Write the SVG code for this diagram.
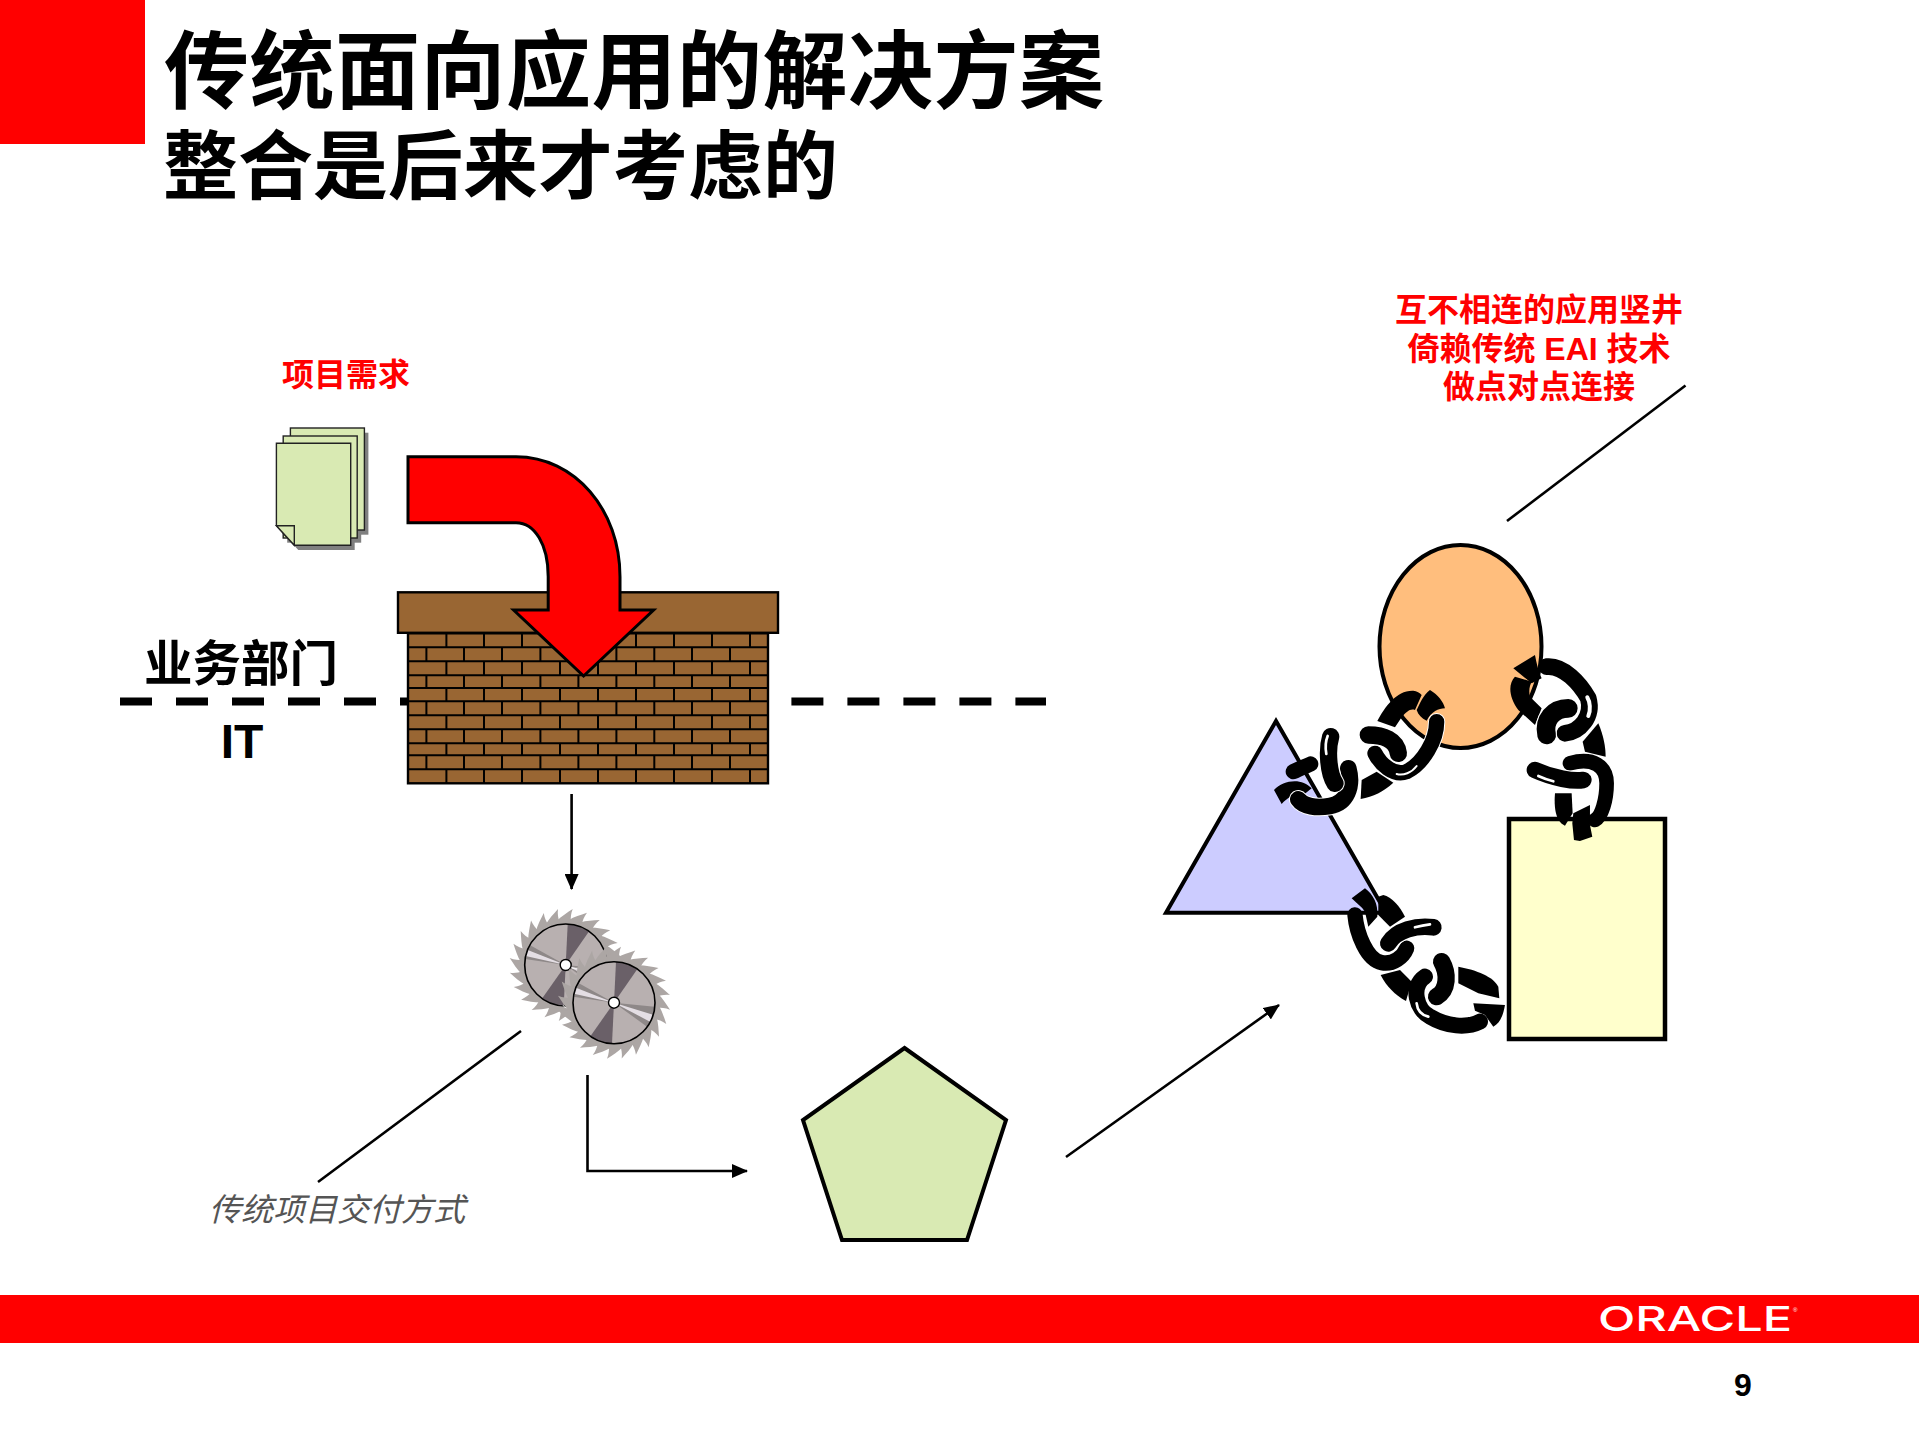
<svg xmlns="http://www.w3.org/2000/svg" width="1919" height="1439" viewBox="0 0 1919 1439">
<style>
.cjk{font-family:"Liberation Sans","Noto Sans CJK SC",sans-serif;font-weight:700}
.red{fill:#f00;font-size:32px}
.ln{fill:none;stroke:#000;stroke-width:2.6}
.br{fill:none;stroke:#000;stroke-width:2;vector-effect:non-scaling-stroke}
.pg{fill:#D9EAB3;stroke:#222;stroke-width:1.4}
.lk{fill:none;stroke:#000;stroke-linecap:round;stroke-linejoin:round}
.wt{fill:none;stroke:#fff;stroke-linecap:round}
</style>
<defs>
<marker id="ah" markerUnits="userSpaceOnUse" markerWidth="18" markerHeight="14" refX="15" refY="7" orient="auto"><path d="M0,0L16,7L0,14z" fill="#000"/></marker>
<path id="o" class="br" d="M446.4 0V1M484 0V1M522 0V1M560 0V1M598 0V1M636 0V1M674 0V1M712 0V1M750 0V1"/>
<path id="e" class="br" d="M426.4 0V1M464 0V1M502 0V1M540.4 0V1M578.4 0V1M616.4 0V1M654.3 0V1M692 0V1M730 0V1"/>
<path id="t" d="M-9,-44C-4,-49 1,-52 7,-56C5,-51 5,-47 5,-44z" fill="#ACA6A4"/>
<g id="t3"><use href="#t"/><use href="#t" transform="rotate(15)"/><use href="#t" transform="rotate(30)"/></g>
<g id="blade">
<circle r="46" fill="#ACA6A4"/>
<use href="#t3"/><use href="#t3" transform="rotate(45)"/><use href="#t3" transform="rotate(90)"/><use href="#t3" transform="rotate(135)"/><use href="#t3" transform="rotate(180)"/><use href="#t3" transform="rotate(225)"/><use href="#t3" transform="rotate(270)"/><use href="#t3" transform="rotate(315)"/>
<circle r="41" fill="#B8B0B0"/>
<path d="M0,0L2,-41A41,41 0 0 1 23.4,-33.7z" fill="#6A6068"/>
<path d="M0,0L-23.6,33.5A41,41 0 0 0 -2,41z" fill="#6A6068"/>
<path d="M0,0L-36,-20A41,41 0 0 0 -40.6,-6z" fill="#8E8888"/>
<path d="M0,0L-38,-15A41,41 0 0 0 -40,-9z" fill="#E4DEE4"/>
<path d="M0,0L40.8,4A41,41 0 0 1 33,24z" fill="#8E8888"/>
<path d="M0,0L39,12A41,41 0 0 1 36,19z" fill="#E4DEE4"/>
<circle r="41" fill="none" stroke="#000" stroke-width="1.6"/>
<circle r="5.5" fill="#fff" stroke="#000" stroke-width="1.4"/>
</g>
</defs>

<rect id="corner" x="0" y="0" width="145" height="144" fill="#f00"/>
<rect id="footer-bar" x="0" y="1295" width="1919" height="48" fill="#f00"/>
<g id="title" class="cjk">
<text x="164" y="102" font-size="85" letter-spacing="0.5">传统面向应用的解决方案</text>
<text x="163" y="193" font-size="75">整合是后来才考虑的</text>
</g>
<text id="logo" x="1598" y="1331" font-family="Inter,'Liberation Sans',sans-serif" font-size="34" font-weight="500" fill="#fff" textLength="194" lengthAdjust="spacingAndGlyphs">ORACLE</text>
<text id="logo-mark" x="1793" y="1312" font-family="'Liberation Sans',sans-serif" font-size="6" fill="#fff">®</text>
<text id="page" x="1743" y="1396" text-anchor="middle" font-family="'Liberation Sans',sans-serif" font-weight="700" font-size="32" fill="#000">9</text>

<g id="connectors">
<path class="ln" d="M571.6 794V889" marker-end="url(#ah)"/>
<path class="ln" d="M587.5 1075V1171H747" marker-end="url(#ah)"/>
<path class="ln" d="M1066 1157L1279 1005" marker-end="url(#ah)"/>
<path class="ln" d="M521 1031L318 1182"/>
<path class="ln" d="M1685.5 385.5L1507 521"/>
<path d="M120 701.4H408" fill="none" stroke="#000" stroke-width="8" stroke-dasharray="32 24"/>
<path d="M791.4 701.4H1046" fill="none" stroke="#000" stroke-width="8" stroke-dasharray="32 24"/>
</g>

<g id="label-project"><text class="cjk red" x="282" y="386">项目需求</text></g>
<g id="label-silos" class="cjk red" text-anchor="middle">
<text x="1539" y="321">互不相连的应用竖井</text>
<text x="1539" y="359.500">倚赖传统 EAI 技术</text>
<text x="1539" y="398">做点对点连接</text>
</g>
<g id="label-business"><text x="144" y="681" font-family="'Noto Sans CJK SC',sans-serif" font-size="48.500" font-weight="700">业务部门</text></g>
<g id="label-it"><text x="242" y="758" text-anchor="middle" font-family="'Liberation Sans',sans-serif" font-weight="700" font-size="48">IT</text></g>
<g id="label-trad"><text x="209" y="1221" font-family="'Noto Sans CJK SC',sans-serif" font-style="italic" font-size="32" fill="#555">传统项目交付方式</text></g>

<g id="documents">
<rect x="294.400" y="432.700" width="74" height="102" fill="#808080"/>
<rect x="287.200" y="440.700" width="74" height="102" fill="#808080"/>
<path d="M280.400 448H354.700V550H298.300L280.400 530.400z" fill="#808080"/>
<rect class="pg" x="290.400" y="428" width="74" height="102"/>
<rect class="pg" x="283.200" y="436" width="74" height="102"/>
<path class="pg" d="M276.400 443.300H350.700V545.300H294.300L276.400 525.700z"/>
<path class="pg" d="M276.400 525.700H294.300V545.300z"/>
</g>

<g id="brick-wall">
<rect x="408" y="633.300" width="360" height="150" fill="#996633" stroke="#000" stroke-width="2.400"/>
<path class="br" d="M408 647.300H768M408 661.300H768M408 675.300H768M408 688H768M408 701.300H768M408 715.300H768M408 729.300H768M408 743.300H768M408 755.300H768M408 769.300H768"/>
<use href="#o" transform="translate(0,633.300) scale(1,14)"/>
<use href="#e" transform="translate(0,647.300) scale(1,14)"/>
<use href="#o" transform="translate(0,661.300) scale(1,14)"/>
<use href="#e" transform="translate(0,675.300) scale(1,12.700)"/>
<use href="#o" transform="translate(0,688) scale(1,13.300)"/>
<use href="#e" transform="translate(0,701.300) scale(1,14)"/>
<use href="#o" transform="translate(0,715.300) scale(1,14)"/>
<use href="#e" transform="translate(0,729.300) scale(1,14)"/>
<use href="#o" transform="translate(0,743.300) scale(1,12)"/>
<use href="#e" transform="translate(0,755.300) scale(1,14)"/>
<use href="#o" transform="translate(0,769.300) scale(1,14)"/>
<rect x="398" y="592.300" width="380" height="40.500" fill="#996633" stroke="#000" stroke-width="2.400"/>
</g>

<g id="red-arrow">
<path d="M408 456.700H516C575 456.700 620 510 620 576.700V610H653.600L583.600 676L513.600 610H548.200V576.700C548.200 545 535 522.700 516 522.700H408z" fill="#f00" stroke="#000" stroke-width="3"/>
</g>

<g id="saw">
<use href="#blade" transform="translate(565.700,965)"/>
<path d="M572 968C590 970 585 962 600 966C603 958 612 966 592 975C575 985 584 990 572 996C585 1005 565 1012 563 1005" fill="none" stroke="#fff" stroke-width="0.800"/>
<use href="#blade" transform="translate(614,1002.700)"/>
</g>

<g id="pentagon"><path d="M904.500 1048L1006 1120L967 1240H842L803 1120z" fill="#D9EAB3" stroke="#000" stroke-width="4"/></g>
<g id="circle"><ellipse cx="1460.500" cy="646.500" rx="81" ry="101.500" fill="#FFBE7D" stroke="#000" stroke-width="4"/></g>
<g id="triangle"><path d="M1276 721L1386 912.700H1166z" fill="#CCF" stroke="#000" stroke-width="4"/></g>
<g id="square"><rect x="1509" y="819" width="156" height="220" fill="#FFFFCC" stroke="#000" stroke-width="4.500"/></g>

<g id="chains" transform="translate(1260,640) scale(0.3333)">
<g id="chain-a">
<path d="M352,243C375,200 410,150 460,152C470,153 480,158 485,165L465,210C450,205 440,215 425,232L405,262z"/>
<path d="M510,150C535,165 550,185 555,205C535,205 515,215 500,242C485,235 475,225 470,210C480,190 490,165 510,150z"/>
<path d="M530,245C530,300 490,370 440,395C400,410 360,370 345,340" class="wt" stroke-width="52"/>
<path d="M530,245C530,300 490,370 440,395C400,410 360,370 345,340" class="lk" stroke-width="46"/>
<path d="M325,285C370,285 410,300 415,340" class="wt" stroke-width="58"/>
<path d="M325,285C370,285 410,300 415,340" class="lk" stroke-width="52"/>
<path d="M410,402C430,408 455,398 470,378" class="wt" stroke-width="6"/>
<path d="M305,420L350,395L400,428C370,455 340,470 302,477z"/>
<path d="M100,395C120,385 140,378 152,372" class="lk" stroke-width="46"/>
<path d="M42,450C70,420 125,412 155,445L130,465C110,458 85,470 65,492z"/>
<path d="M265,385C280,440 260,490 210,498C170,505 130,500 115,478" class="wt" stroke-width="56"/>
<path d="M265,385C280,440 260,490 210,498C170,505 130,500 115,478" class="lk" stroke-width="50"/>
<path d="M212,290C200,330 205,400 225,430" class="wt" stroke-width="58"/>
<path d="M212,290C200,330 205,400 225,430" class="lk" stroke-width="52"/>
<path d="M203,288C196,305 196,325 199,342" class="wt" stroke-width="8"/>
</g>
<g id="chain-b">
<path d="M825,45L760,85L815,130L845,115C835,95 830,70 825,45z"/>
<path d="M765,110C745,130 745,170 775,210L825,255L845,205L810,170C805,150 810,135 815,125z"/>
<path d="M860,80C910,75 960,130 985,175C1000,230 960,275 915,280" class="lk" stroke-width="50"/>
<path d="M982,172C990,185 993,210 985,228" class="wt" stroke-width="12"/>
<path d="M860,285C850,240 880,205 925,205" class="wt" stroke-width="62"/>
<path d="M860,285C850,240 880,205 925,205" class="lk" stroke-width="56"/>
<path d="M1015,250C1030,285 1037,320 1037,350L975,335L968,305z"/>
<path d="M930,370C1000,350 1040,380 1040,430C1040,480 1025,530 1005,540" class="lk" stroke-width="44"/>
<path d="M825,390C880,415 940,425 970,420" class="wt" stroke-width="56"/>
<path d="M825,390C880,415 940,425 970,420" class="lk" stroke-width="50"/>
<path d="M835,408C850,415 865,420 880,424" class="wt" stroke-width="8"/>
<path d="M885,460L935,460L938,520L915,557C895,550 880,520 885,460z"/>
<path d="M940,520L990,495L990,555L997,590L960,603L942,600L937,550z"/>
</g>
<g id="chain-c">
<path d="M275,775L315,745C340,765 355,790 352,830L325,860L315,815C305,800 290,790 275,775z"/>
<path d="M370,765C395,770 420,800 435,830L390,860L355,825L355,770z"/>
<path d="M285,825C290,880 320,960 365,968C400,975 430,950 440,925" class="lk" stroke-width="46"/>
<path d="M385,910C410,870 470,855 520,862" class="wt" stroke-width="56"/>
<path d="M385,910C410,870 470,855 520,862" class="lk" stroke-width="50"/>
<path d="M465,862C480,858 495,855 510,853" class="wt" stroke-width="8"/>
<path d="M362,1005L420,990L455,1025L438,1083C405,1065 380,1040 362,1005z"/>
<path d="M495,1010C450,1040 470,1110 510,1130C560,1160 620,1165 660,1145" class="lk" stroke-width="48"/>
<path d="M470,1090C472,1110 485,1125 505,1130" class="wt" stroke-width="8"/>
<path d="M545,965C565,1000 565,1050 530,1070" class="wt" stroke-width="58"/>
<path d="M545,965C565,1000 565,1050 530,1070" class="lk" stroke-width="52"/>
<path d="M595,980C650,990 700,1010 715,1040L718,1075L655,1060L595,1030z"/>
<path d="M640,1090L735,1095C730,1125 720,1150 700,1160L675,1125L645,1112z"/>
</g>
</g>
</svg>
